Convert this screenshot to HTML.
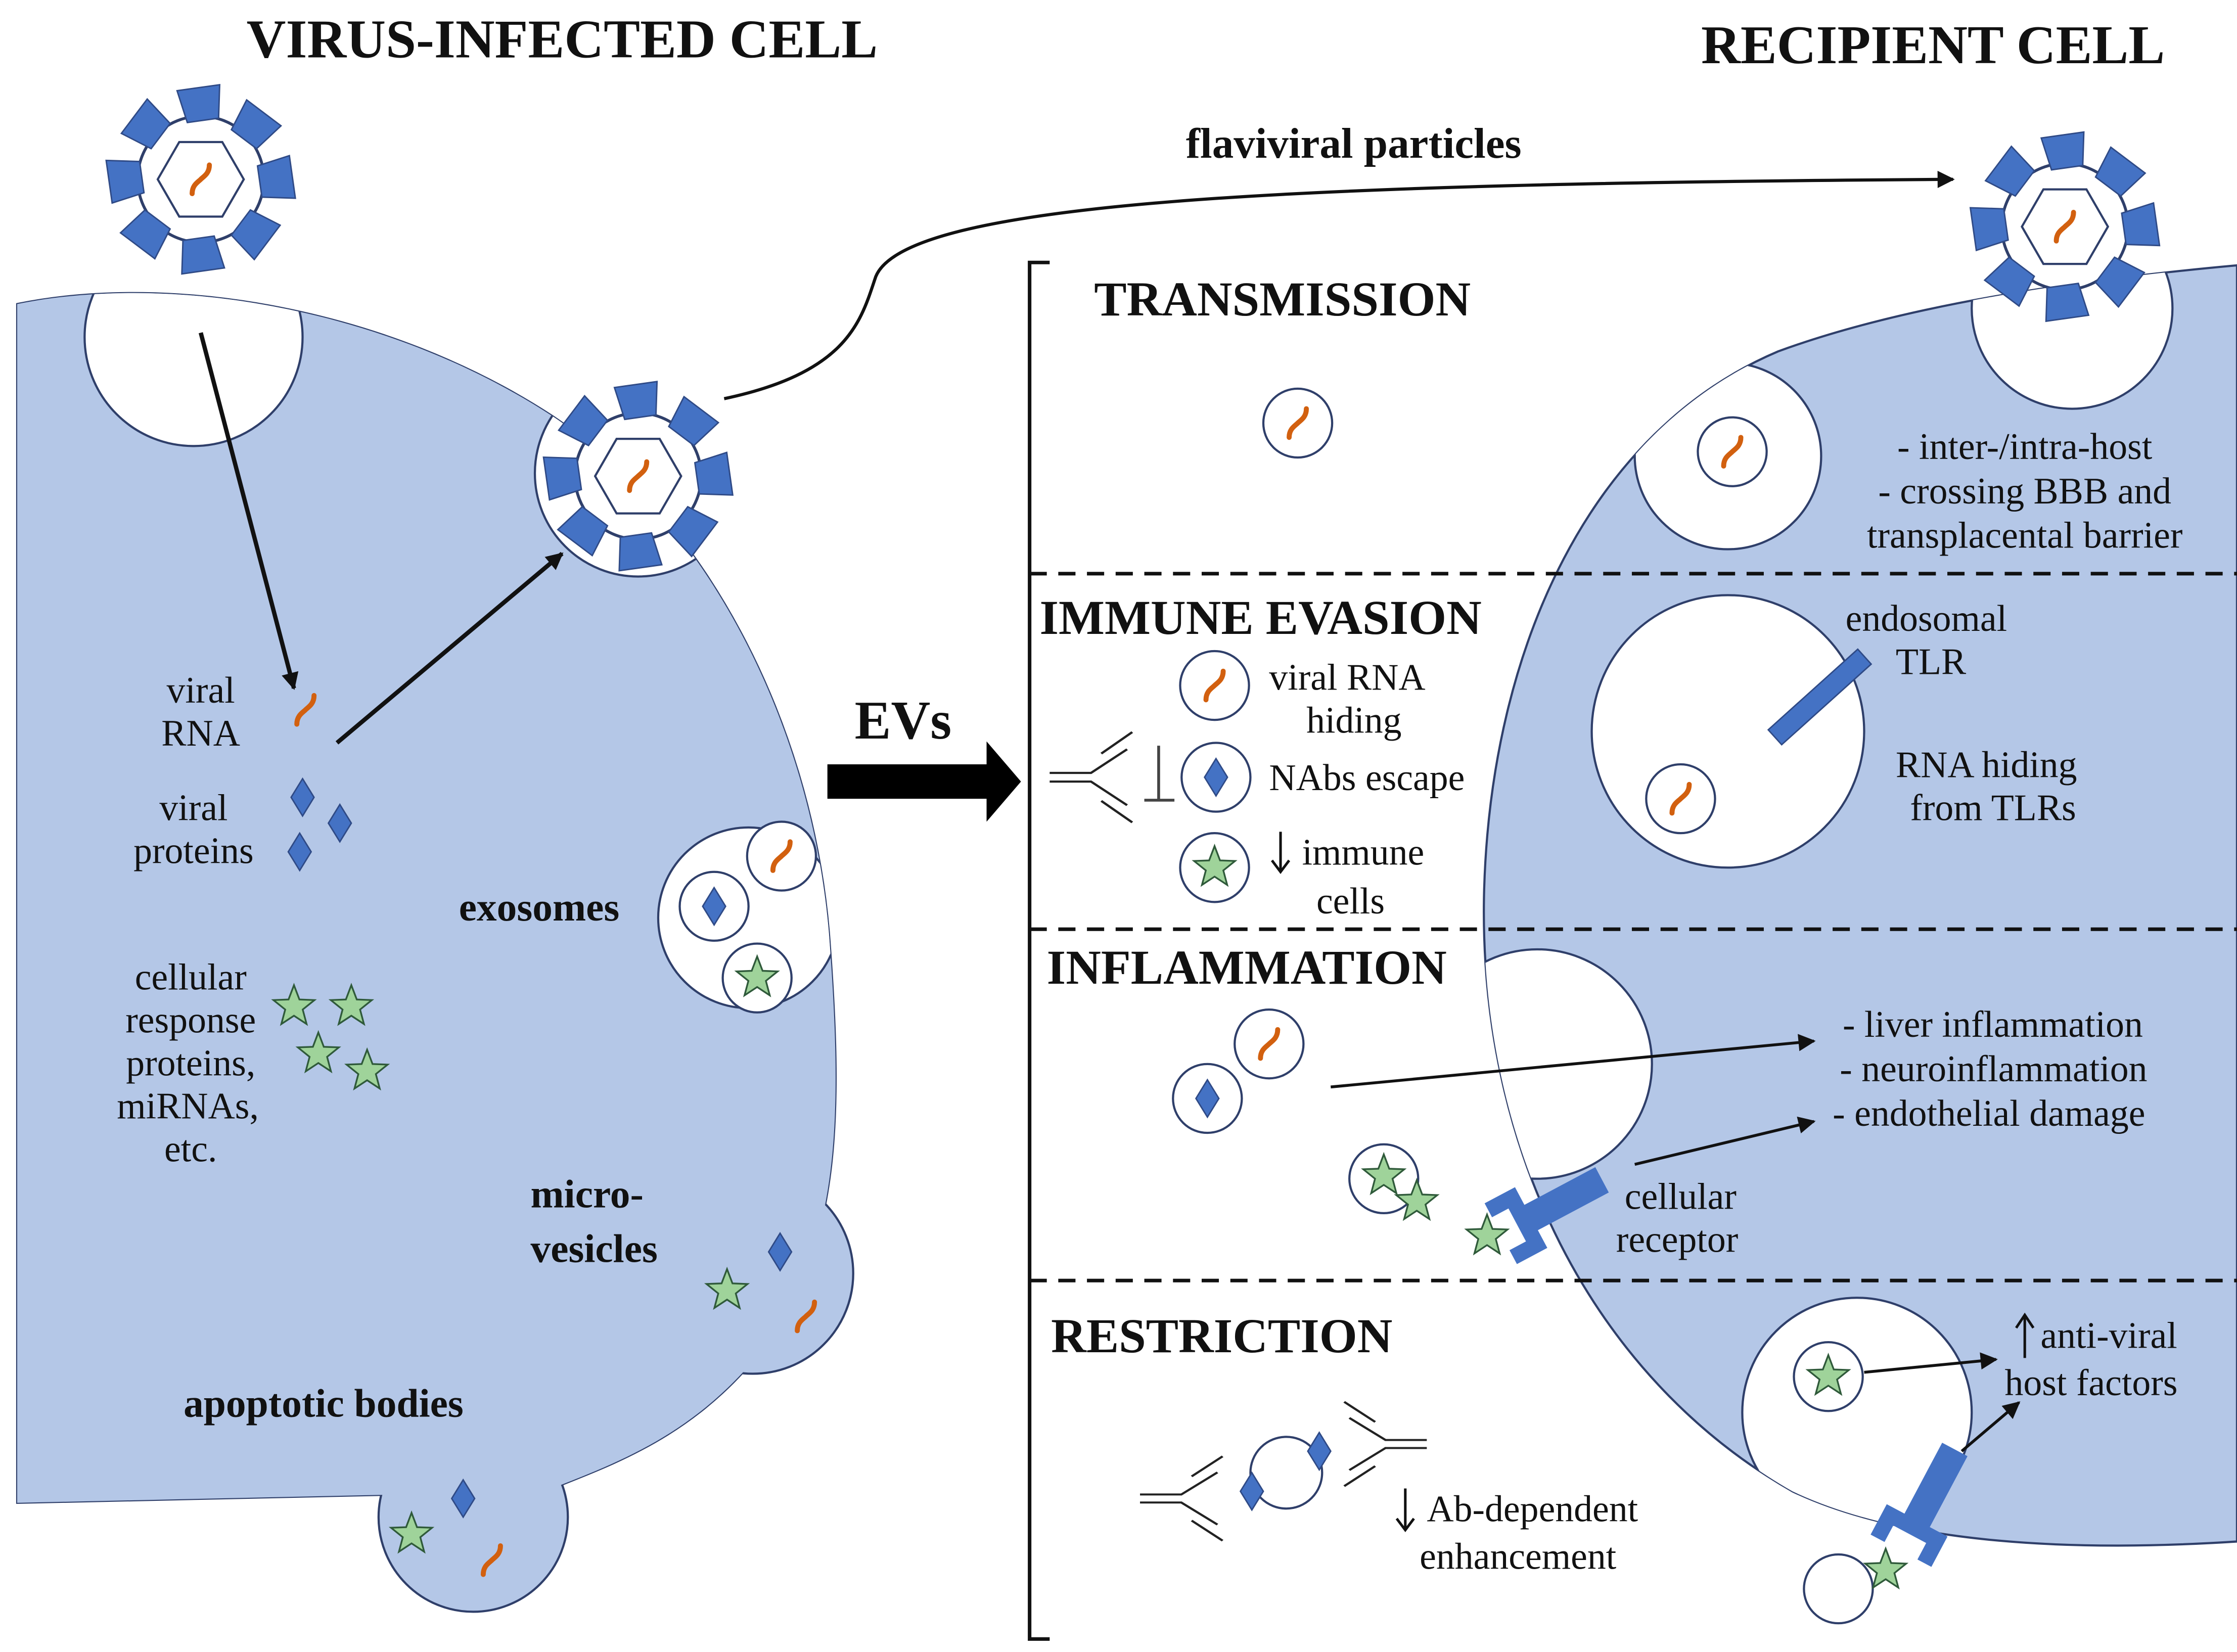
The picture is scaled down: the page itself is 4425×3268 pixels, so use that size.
<!DOCTYPE html>
<html><head><meta charset="utf-8">
<style>
html,body{margin:0;padding:0;background:#fff;}
svg{display:block;}
text{font-family:"Liberation Serif",serif;fill:#111;}
.h{font-size:34px;font-weight:bold;}
.t{font-size:26px;}
.b{font-weight:bold;}
</style></head><body>
<svg width="4425" height="3268" viewBox="0 0 1560 1152" xmlns="http://www.w3.org/2000/svg">
<defs>
  <marker id="a" viewBox="0 0 10 10" refX="9" refY="5" markerWidth="14" markerHeight="12" orient="auto" markerUnits="userSpaceOnUse">
    <path d="M0,0 L10,5 L0,10 Z" fill="#111"/>
  </marker>
  <g id="rna"><path d="M-6,10 C-6,4 -2,2 0,0 C2,-2 6,-4 6,-10" fill="none" stroke="#d2600f" stroke-width="3.5" stroke-linecap="round"/></g>
  <g id="dia"><path d="M0,-13 L8,0 L0,13 L-8,0 Z" fill="#4472c4" stroke="#2f4a86" stroke-width="1"/></g>
  <g id="star"><path d="M0,-15 L3.8,-5 L14.3,-4.6 L6.1,2 L8.8,12.1 L0,6.3 L-8.8,12.1 L-6.1,2 L-14.3,-4.6 L-3.8,-5 Z" fill="#9fd39a" stroke="#2f5a3a" stroke-width="1.2"/></g>
  <g id="blk"><path d="M-15,-12 L15,-12 L11,11 L-11,11 Z" fill="#4472c4" stroke="#2f4a86" stroke-width="1"/></g>
  <g id="virus">
    <circle r="44" fill="#fff" stroke="#2f3f6a" stroke-width="2"/>
    <path d="M-15,-26 L15,-26 L30,0 L15,26 L-15,26 L-30,0 Z" fill="#fff" stroke="#2f3f6a" stroke-width="1.5"/>
    <use href="#rna"/>
    <use href="#blk" transform="rotate(0) translate(0,-52) rotate(-8)"/>
    <use href="#blk" transform="rotate(45) translate(0,-52) rotate(-8)"/>
    <use href="#blk" transform="rotate(90) translate(0,-52) rotate(-8)"/>
    <use href="#blk" transform="rotate(135) translate(0,-52) rotate(-8)"/>
    <use href="#blk" transform="rotate(180) translate(0,-52) rotate(-8)"/>
    <use href="#blk" transform="rotate(225) translate(0,-52) rotate(-8)"/>
    <use href="#blk" transform="rotate(270) translate(0,-52) rotate(-8)"/>
    <use href="#blk" transform="rotate(315) translate(0,-52) rotate(-8)"/>
  </g>
  <g id="ves"><circle r="24" fill="#fff" stroke="#2f3f6a" stroke-width="1.5"/></g>
  <g id="rcp" fill="#4472c4">
    <rect x="0" y="-10" width="58" height="20"/>
    <path d="M-22,-24 L2,-24 L2,24 L-22,24 L-22,13 L-9,13 L-9,-13 L-22,-13 Z"/>
  </g>
  <g id="ab" fill="none" stroke="#222" stroke-width="2">
    <path d="M0,-4 L32,-4 L60,-26 M0,4 L32,4 L60,26 M40,-22 L64,-42 M40,22 L64,42"/>
  </g>
  <path id="lcell" d="M12,1048 L12,212 C120,190 270,215 385,290 C490,360 565,500 578,650 C588,780 585,860 540,930 C490,1000 430,1020 380,1040 L12,1048 Z"/>
  <path id="rcell" d="M1560,185 C1450,195 1330,212 1240,245 C1110,300 1040,450 1035,620 C1030,800 1110,960 1250,1040 C1330,1078 1450,1082 1560,1075 Z"/>
  <clipPath id="lc"><use href="#lcell"/></clipPath>
  <clipPath id="rc"><use href="#rcell"/></clipPath>
</defs>

<use href="#lcell" fill="#b4c7e7" stroke="#2f3f6a" stroke-width="1.5"/>
<circle cx="525" cy="888" r="70" fill="#b4c7e7" stroke="#2f3f6a" stroke-width="1.5"/>
<circle cx="330" cy="1058" r="66" fill="#b4c7e7" stroke="#2f3f6a" stroke-width="1.5"/>
<use href="#lcell" fill="#b4c7e7"/>
<g clip-path="url(#lc)" fill="#fff" stroke="#2f3f6a" stroke-width="1.5">
  <circle cx="135" cy="235" r="76"/>
  <circle cx="445" cy="330" r="72"/>
  <circle cx="522" cy="640" r="63"/>
</g>

<use href="#rcell" fill="#b4c7e7" stroke="#2f3f6a" stroke-width="1.5"/>
<g clip-path="url(#rc)" fill="#fff" stroke="#2f3f6a" stroke-width="1.5">
  <circle cx="1445" cy="215" r="70"/>
  <circle cx="1205" cy="318" r="65"/>
  <circle cx="1072" cy="742" r="80"/>
  <circle cx="1295" cy="985" r="80"/>
</g>
<circle cx="1205" cy="510" r="95" fill="#fff" stroke="#2f3f6a" stroke-width="1.5"/>

<text x="392" y="40" text-anchor="middle" class="b" style="font-size:38px">VIRUS-INFECTED CELL</text>
<text x="1348" y="44" text-anchor="middle" class="b" style="font-size:38px">RECIPIENT CELL</text>
<text x="944" y="110" text-anchor="middle" class="b" style="font-size:30px">flaviviral particles</text>

<use href="#virus" transform="translate(140,125)"/>
<use href="#virus" transform="translate(445,332)"/>
<use href="#virus" transform="translate(1440,158)"/>

<path d="M505,278 C590,260 600,225 610,195 C625,140 900,128 1362,125" fill="none" stroke="#111" stroke-width="2.2" marker-end="url(#a)"/>
<line x1="140" y1="232" x2="205" y2="480" stroke="#111" stroke-width="3" marker-end="url(#a)"/>
<line x1="235" y1="518" x2="392" y2="386" stroke="#111" stroke-width="3" marker-end="url(#a)"/>

<text class="t" text-anchor="middle" x="140" y="490">viral</text>
<text class="t" text-anchor="middle" x="140" y="520">RNA</text>
<use href="#rna" x="213" y="495"/>
<text class="t" text-anchor="middle" x="135" y="572">viral</text>
<text class="t" text-anchor="middle" x="135" y="602">proteins</text>
<use href="#dia" x="211" y="556"/><use href="#dia" x="237" y="574"/><use href="#dia" x="209" y="594"/>
<text class="t" text-anchor="middle" x="133" y="690">cellular</text>
<text class="t" text-anchor="middle" x="133" y="720">response</text>
<text class="t" text-anchor="middle" x="133" y="750">proteins,</text>
<text class="t" text-anchor="middle" x="131" y="780">miRNAs,</text>
<text class="t" text-anchor="middle" x="133" y="810">etc.</text>
<use href="#star" x="205" y="702"/><use href="#star" x="245" y="702"/><use href="#star" x="222" y="735"/><use href="#star" x="256" y="747"/>

<text x="320" y="642" class="b" style="font-size:28px">exosomes</text>
<use href="#ves" x="545" y="597"/><use href="#rna" x="545" y="597"/>
<use href="#ves" x="498" y="632"/><use href="#dia" x="498" y="632"/>
<use href="#ves" x="528" y="682"/><use href="#star" x="528" y="682"/>

<text x="370" y="842" class="b" style="font-size:28px">micro-</text>
<text x="370" y="880" class="b" style="font-size:28px">vesicles</text>
<use href="#dia" x="544" y="873"/><use href="#star" x="507" y="900"/><use href="#rna" x="562" y="918"/>

<text x="128" y="988" class="b" style="font-size:28px">apoptotic bodies</text>
<use href="#dia" x="323" y="1045"/><use href="#star" x="287" y="1070"/><use href="#rna" x="343" y="1088"/>

<text x="596" y="515" class="b" style="font-size:38px">EVs</text>
<path d="M577,533 L688,533 L688,517 L712,545 L688,573 L688,557 L577,557 Z" fill="#000"/>

<path d="M732,183 L718,183 L718,1143 L732,1143" fill="none" stroke="#111" stroke-width="2.5"/>
<g stroke="#111" stroke-width="2.5" stroke-dasharray="12,8">
  <line x1="718" y1="400" x2="1560" y2="400"/>
  <line x1="718" y1="648" x2="1560" y2="648"/>
  <line x1="718" y1="893" x2="1560" y2="893"/>
</g>

<text x="763" y="220" class="h">TRANSMISSION</text>
<use href="#ves" x="905" y="295"/><use href="#rna" x="905" y="295"/>
<use href="#ves" x="1208" y="315"/><use href="#rna" x="1208" y="315"/>
<text class="t" x="1412" y="320" text-anchor="middle">- inter-/intra-host</text>
<text class="t" x="1412" y="351" text-anchor="middle">- crossing  BBB and</text>
<text class="t" x="1412" y="382" text-anchor="middle">transplacental  barrier</text>

<text x="725" y="442" class="h">IMMUNE EVASION</text>
<use href="#ves" x="847" y="478"/><use href="#rna" x="847" y="478"/>
<use href="#ves" x="848" y="542"/><use href="#dia" x="848" y="542"/>
<use href="#ves" x="847" y="605"/><use href="#star" x="847" y="605"/>
<text class="t" x="885" y="481">viral  RNA</text>
<text class="t" x="911" y="511">hiding</text>
<text class="t" x="885" y="551">NAbs  escape</text>
<text class="t" x="908" y="603">immune</text>
<text class="t" x="918" y="637">cells</text>
<path d="M893,580 L893,607 M887,600 L893,608 L899,600" fill="none" stroke="#111" stroke-width="1.8"/>
<use href="#ab" transform="translate(732,542) scale(0.9,0.75)"/>
<path d="M808,520 L808,558 M798,558 L819,558" stroke="#444" stroke-width="2" fill="none"/>
<text class="t" x="1287" y="440">endosomal</text>
<text class="t" x="1322" y="470">TLR</text>
<rect x="-42" y="-7" width="84" height="14" fill="#4472c4" stroke="#2f4a86" transform="translate(1269,486) rotate(-42)"/>
<use href="#ves" x="1172" y="557"/><use href="#rna" x="1172" y="557"/>
<text class="t" x="1322" y="542">RNA hiding</text>
<text class="t" x="1332" y="572">from TLRs</text>

<text x="730" y="686" class="h">INFLAMMATION</text>
<use href="#ves" x="885" y="728"/><use href="#rna" x="885" y="728"/>
<use href="#ves" x="842" y="766"/><use href="#dia" x="842" y="766"/>
<line x1="928" y1="758" x2="1265" y2="726" stroke="#111" stroke-width="2" marker-end="url(#a)"/>
<use href="#ves" x="965" y="822"/>
<use href="#star" x="965" y="820"/><use href="#star" x="988" y="838"/>
<line x1="1140" y1="812" x2="1265" y2="782" stroke="#111" stroke-width="2" marker-end="url(#a)"/>
<text class="t" x="1285" y="723">- liver  inflammation</text>
<text class="t" x="1283" y="754">- neuroinflammation</text>
<text class="t" x="1278" y="785">- endothelial  damage</text>
<use href="#rcp" transform="translate(1066,850) rotate(-28)"/>
<use href="#star" x="1037" y="862"/>
<text class="t" x="1133" y="843">cellular</text>
<text class="t" x="1127" y="873">receptor</text>

<text x="733" y="943" class="h">RESTRICTION</text>
<use href="#ves" x="1275" y="960"/><use href="#star" x="1275" y="960"/>
<line x1="1300" y1="957" x2="1392" y2="948" stroke="#111" stroke-width="2" marker-end="url(#a)"/>
<path d="M1412,947 L1412,918 M1406,926 L1412,917 L1418,926" fill="none" stroke="#111" stroke-width="1.8"/>
<text class="t" x="1423" y="940">anti-viral</text>
<text class="t" x="1398" y="973">host factors</text>
<line x1="1368" y1="1012" x2="1408" y2="978" stroke="#111" stroke-width="2" marker-end="url(#a)"/>
<use href="#rcp" transform="translate(1336,1062) rotate(-62)"/>
<use href="#ves" x="1282" y="1108"/>
<use href="#star" x="1315" y="1095"/>
<circle cx="897" cy="1027" r="25" fill="#fff" stroke="#2f3f6a" stroke-width="1.5"/>
<use href="#dia" x="873" y="1040"/><use href="#dia" x="920" y="1012"/>
<use href="#ab" transform="translate(795,1045) scale(0.9,0.7)"/>
<use href="#ab" transform="translate(995,1007) scale(-0.9,0.7)"/>
<path d="M980,1038 L980,1066 M974,1059 L980,1067 L986,1059" fill="none" stroke="#111" stroke-width="1.8"/>
<text class="t" x="995" y="1061">Ab-dependent</text>
<text class="t" x="990" y="1094">enhancement</text>
</svg>
</body></html>
